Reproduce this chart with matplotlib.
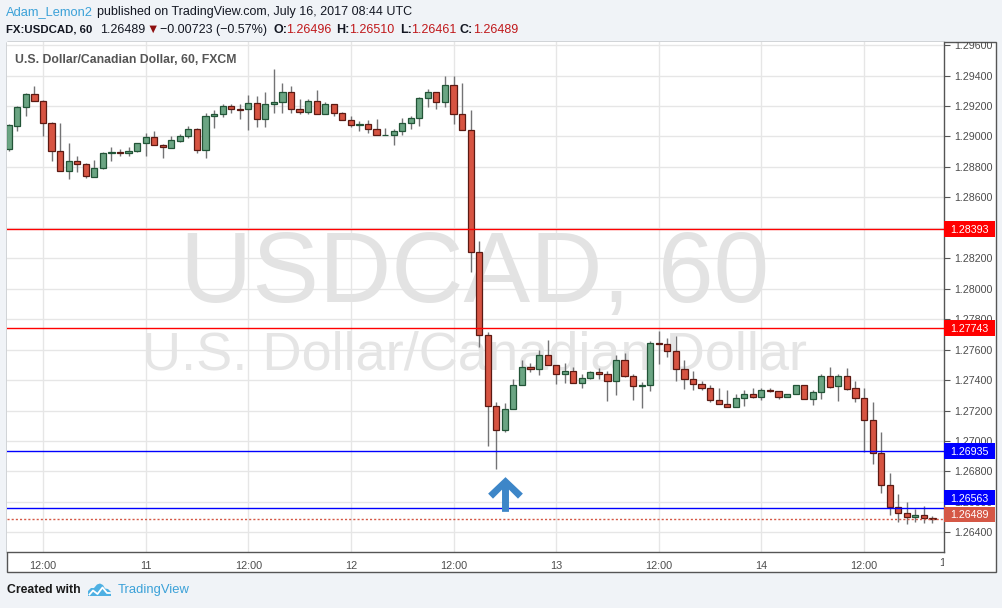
import matplotlib
matplotlib.use("Agg")
import matplotlib.pyplot as plt
import numpy as np
from matplotlib.patches import Rectangle, Polygon
from matplotlib.path import Path
from matplotlib.lines import Line2D
from matplotlib.transforms import Bbox, TransformedBbox, blended_transform_factory

# ---------------- data (USDCAD, 60 min candles, 10 Jul 08:00 -> 14 Jul 20:00) ----------------
opens = [
    1.28919, 1.29070, 1.29191, 1.29278, 1.29230, 1.29090, 1.28904, 1.28771, 1.28836, 1.28817,
    1.28735, 1.28790, 1.28889, 1.28897, 1.28889, 1.28902, 1.28955, 1.28994, 1.28941, 1.28926,
    1.28972, 1.29001, 1.29047, 1.28909, 1.29132, 1.29145, 1.29198, 1.29180, 1.29178, 1.29217,
    1.29112, 1.29211, 1.29224, 1.29290, 1.29178, 1.29162, 1.29230, 1.29145, 1.29211, 1.29152,
    1.29108, 1.29073, 1.29079, 1.29047, 1.29007, 1.29011, 1.29033, 1.29086, 1.29119, 1.29250,
    1.29290, 1.29224, 1.29336, 1.29145, 1.29040, 1.28238, 1.27693, 1.27233, 1.27069, 1.27207,
    1.27365, 1.27489, 1.27470, 1.27562, 1.27496, 1.27443, 1.27457, 1.27384, 1.27411, 1.27450,
    1.27443, 1.27391, 1.27529, 1.27430, 1.27358, 1.27365, 1.27641, 1.27634, 1.27588, 1.27470,
    1.27404, 1.27371, 1.27345, 1.27266, 1.27240, 1.27220, 1.27279, 1.27306, 1.27286, 1.27338,
    1.27325, 1.27286, 1.27306, 1.27365, 1.27273, 1.27319, 1.27424, 1.27358, 1.27430, 1.27345,
    1.27279, 1.27135, 1.26918, 1.26708, 1.26567, 1.26530, 1.26504, 1.26517, 1.26496]
highs = [
    1.29081, 1.29200, 1.29287, 1.29331, 1.29239, 1.29095, 1.29090, 1.28957, 1.28871, 1.28823,
    1.28845, 1.28897, 1.28928, 1.28915, 1.28928, 1.28958, 1.29020, 1.29035, 1.28950, 1.29003,
    1.29016, 1.29068, 1.29053, 1.29156, 1.29173, 1.29215, 1.29213, 1.29213, 1.29274, 1.29265,
    1.29292, 1.29443, 1.29351, 1.29331, 1.29246, 1.29246, 1.29303, 1.29224, 1.29211, 1.29160,
    1.29134, 1.29101, 1.29106, 1.29114, 1.29053, 1.29049, 1.29119, 1.29134, 1.29259, 1.29311,
    1.29290, 1.29397, 1.29397, 1.29351, 1.29173, 1.28313, 1.27715, 1.27255, 1.27250, 1.27404,
    1.27531, 1.27509, 1.27597, 1.27662, 1.27496, 1.27511, 1.27483, 1.27437, 1.27457, 1.27478,
    1.27457, 1.27562, 1.27581, 1.27443, 1.27386, 1.27654, 1.27719, 1.27673, 1.27687, 1.27529,
    1.27457, 1.27397, 1.27365, 1.27351, 1.27332, 1.27306, 1.27338, 1.27351, 1.27345, 1.27345,
    1.27325, 1.27306, 1.27365, 1.27365, 1.27338, 1.27437, 1.27483, 1.27443, 1.27476, 1.27391,
    1.27351, 1.27253, 1.27062, 1.26787, 1.26650, 1.26602, 1.26552, 1.26576, 1.26510]
lows = [
    1.28906, 1.29037, 1.29134, 1.29230, 1.29004, 1.28840, 1.28771, 1.28722, 1.28766, 1.28725,
    1.28731, 1.28788, 1.28840, 1.28873, 1.28873, 1.28897, 1.28873, 1.28941, 1.28860, 1.28922,
    1.28965, 1.28991, 1.28893, 1.28860, 1.29053, 1.29129, 1.29156, 1.29116, 1.29044, 1.29064,
    1.29064, 1.29156, 1.29156, 1.29152, 1.29145, 1.29145, 1.29145, 1.29145, 1.29136, 1.29108,
    1.29064, 1.29037, 1.29020, 1.29007, 1.29007, 1.28945, 1.29011, 1.29050, 1.29070, 1.29195,
    1.29182, 1.29195, 1.29079, 1.29040, 1.28111, 1.27618, 1.26968, 1.26813, 1.27060, 1.27207,
    1.27365, 1.27454, 1.27432, 1.27496, 1.27375, 1.27382, 1.27384, 1.27349, 1.27404, 1.27404,
    1.27263, 1.27303, 1.27417, 1.27270, 1.27217, 1.27329, 1.27503, 1.27549, 1.27395, 1.27342,
    1.27336, 1.27332, 1.27257, 1.27240, 1.27220, 1.27220, 1.27231, 1.27279, 1.27270, 1.27319,
    1.27273, 1.27286, 1.27306, 1.27273, 1.27237, 1.27277, 1.27351, 1.27263, 1.27338, 1.27257,
    1.26928, 1.26850, 1.26659, 1.26511, 1.26470, 1.26455, 1.26470, 1.26460, 1.26461]
closes = [
    1.29073, 1.29191, 1.29278, 1.29230, 1.29086, 1.28902, 1.28771, 1.28836, 1.28817, 1.28738,
    1.28790, 1.28889, 1.28897, 1.28889, 1.28902, 1.28955, 1.28994, 1.28941, 1.28928, 1.28974,
    1.29001, 1.29047, 1.28909, 1.29132, 1.29145, 1.29198, 1.29178, 1.29175, 1.29217, 1.29112,
    1.29211, 1.29226, 1.29290, 1.29178, 1.29162, 1.29230, 1.29145, 1.29211, 1.29152, 1.29108,
    1.29073, 1.29079, 1.29047, 1.29007, 1.29011, 1.29033, 1.29086, 1.29119, 1.29250, 1.29290,
    1.29224, 1.29336, 1.29145, 1.29040, 1.28238, 1.27693, 1.27233, 1.27069, 1.27207, 1.27365,
    1.27489, 1.27470, 1.27562, 1.27496, 1.27443, 1.27457, 1.27384, 1.27411, 1.27450, 1.27443,
    1.27391, 1.27529, 1.27430, 1.27358, 1.27365, 1.27641, 1.27634, 1.27588, 1.27470, 1.27404,
    1.27371, 1.27345, 1.27266, 1.27240, 1.27220, 1.27279, 1.27306, 1.27286, 1.27338, 1.27325,
    1.27286, 1.27306, 1.27365, 1.27273, 1.27319, 1.27424, 1.27355, 1.27430, 1.27342, 1.27279,
    1.27135, 1.26918, 1.26708, 1.26567, 1.26530, 1.26504, 1.26517, 1.26496, 1.26489]

x_tick_pos = [4, 16, 28, 40, 52, 64, 76, 88, 100]
x_tick_labels = ["12:00", "11", "12:00", "12", "12:00", "13", "12:00", "14", "12:00"]
next_session_pos = 109.5
next_session_label = "16"

y_ticks = [1.264, 1.266, 1.268, 1.270, 1.272, 1.274, 1.276, 1.278, 1.280,
           1.282, 1.284, 1.286, 1.288, 1.290, 1.292, 1.294, 1.296]
# 1.28400 is completely covered by the 1.28393 level label in the reference
y_tick_labels = ["1.26400", "1.26600", "1.26800", "1.27000", "1.27200", "1.27400",
                 "1.27600", "1.27800", "1.28000", "1.28200", "", "1.28600",
                 "1.28800", "1.29000", "1.29200", "1.29400", "1.29600"]

level_prices = [1.28393, 1.27743, 1.26935, 1.26563]
level_labels = ["1.28393", "1.27743", "1.26935", "1.26563"]
level_colors = ["#ff0000", "#ff0000", "#0000ff", "#0000ff"]
level_label_shift_px = [0, 0, 0, 10]

last_price = 1.26489
last_label = "1.26489"
last_label_shift_px = 4.5

arrow_index = 58
arrow_price = 1.26652

# ---------------- figure ----------------
W, H = 1002, 608
plt.rcParams['font.family'] = ['Liberation Sans', 'DejaVu Sans']
fig = plt.figure(figsize=(W / 100, H / 100), dpi=100, facecolor='#f0f3f7')


def fx(px):
    return px / W


def fy(py):
    return 1 - py / H


panel = Rectangle((fx(6.5), fy(571.5)), (995.5 - 6.5) / W, (571.5 - 41.5) / H,
                  transform=fig.transFigure, facecolor='white', edgecolor='#555555',
                  lw=1, zorder=-1)
fig.add_artist(panel)

ax = fig.add_axes([fx(7), fy(552), (944 - 7) / W, (552 - 42) / H])
ax.set_facecolor('white')
ax.set_xlim(-0.21, 109.35)
ax.set_ylim(1.26271, 1.29620)
ax.set_axisbelow(True)

for s in ('left', 'top'):
    ax.spines[s].set_visible(False)
for s in ('right', 'bottom'):
    ax.spines[s].set_color('#555555')
    ax.spines[s].set_linewidth(1)

ax.grid(True, color='#e6e6e6', lw=1)

ax.yaxis.tick_right()
ax.set_yticks(y_ticks)
ax.set_yticklabels(y_tick_labels)
ax.tick_params(axis='y', length=4, width=0.8, color='#555555', labelsize=7.7,
               labelcolor='#4d4d4d', pad=3, direction='out')
ax.set_xticks(x_tick_pos)
ax.set_xticklabels(x_tick_labels)
ax.tick_params(axis='x', length=0, labelsize=7.8, labelcolor='#4d4d4d', pad=6.5)

# watermark
ax.text(0.499, 0.490, "USDCAD, 60", transform=ax.transAxes, ha='center', va='baseline',
        fontsize=72, color='#e3e3e3', zorder=0.6)
ax.text(0.499, 0.358, "U.S. Dollar/Canadian Dollar", transform=ax.transAxes, ha='center',
        va='baseline', fontsize=39, color='#e5e5e5', zorder=0.6)

# candles
up_face, up_edge = '#6ba583', '#225437'
dn_face, dn_edge = '#d75442', '#5b1a13'
xs = np.arange(len(opens))
ax.vlines(xs, lows, highs, color='#737375', lw=1, zorder=2)
bw = 0.72
for i, (o, c) in enumerate(zip(opens, closes)):
    up = c >= o
    ax.add_patch(Rectangle((i - bw / 2, min(o, c)), bw, abs(c - o),
                           facecolor=up_face if up else dn_face,
                           edgecolor=up_edge if up else dn_edge, lw=0.9, zorder=3))

# horizontal levels and price labels
trans = blended_transform_factory(ax.transAxes, ax.transData)
y0, y1 = ax.get_ylim()
px_to_data = (y1 - y0) / (552 - 42)
box_w = 51 / 937
box_h = 15.5 * px_to_data
for price, lab, col, sh in zip(level_prices, level_labels, level_colors, level_label_shift_px):
    ax.axhline(price, color=col, lw=1, zorder=4)
    yc = price + sh * px_to_data
    ax.add_patch(Rectangle((1.0, yc - box_h / 2), box_w, box_h, transform=trans,
                           facecolor=col, edgecolor='none', clip_on=False, zorder=6))
    ax.text(1.0 + box_w / 2, yc, lab, transform=trans, ha='center', va='center_baseline',
            color='white', fontsize=7.7, clip_on=False, zorder=7)

last_col = '#d55846'
ax.axhline(last_price, color=last_col, lw=1, ls=(0, (1.5, 1.5)), zorder=4)
yc = last_price + last_label_shift_px * px_to_data
ax.add_patch(Rectangle((1.0, yc - box_h / 2), box_w, box_h, transform=trans,
                       facecolor=last_col, edgecolor='none', clip_on=False, zorder=8))
ax.text(1.0 + box_w / 2, yc, last_label, transform=trans, ha='center', va='center_baseline',
        color='white', fontsize=7.7, clip_on=False, zorder=9)

# blue arrow annotation
arrow_path = Path([(0, 1), (1, 0.05), (0.72, -0.24), (0.2, 0.28), (0.2, -1), (-0.2, -1),
                   (-0.2, 0.28), (-0.72, -0.24), (-1, 0.05), (0, 1)], closed=True)
ax.plot([arrow_index], [arrow_price], marker=arrow_path, markersize=25,
        color='#3d86c8', markeredgewidth=0, zorder=5)

# partially visible next-session label at right edge
t = fig.text(next_session_pos, -0.0216, next_session_label,
             transform=blended_transform_factory(ax.transData, ax.transAxes),
             ha='center', va='center', fontsize=7.8, color='#4d4d4d')
t.set_clip_box(TransformedBbox(Bbox([[0, -0.2], [1, 1]]), ax.transAxes))
t.set_clip_on(True)

# title inside plot
fig.text(fx(15), fy(60), "U.S. Dollar/Canadian Dollar, 60, FXCM", fontsize=8.8,
         fontweight='bold', color='#555555', va='center', ha='left')

# header
hdr_black = '#131722'
hdr_red = '#c0181b'
fig.text(fx(6), fy(12), "Adam_Lemon2", fontsize=9.3, color='#3ba1d8', va='center')
fig.text(fx(97), fy(12), "published on TradingView.com, July 16, 2017 08:44 UTC", fontsize=9,
         color=hdr_black, va='center')
segments = [
    (6.5, "FX:USDCAD, 60", hdr_black, 'bold', 8.2),
    (100, "1.26489", hdr_black, 'normal', 9),
    (146, "\u25bc", '#8e0f0f', 'normal', 9),
    (160, "\u22120.00723 (\u22120.57%)", hdr_black, 'normal', 9),
    (273, "O:", hdr_black, 'bold', 9),
    (286, "1.26496", hdr_red, 'normal', 9),
    (336, "H:", hdr_black, 'bold', 9),
    (349, "1.26510", hdr_red, 'normal', 9),
    (400, "L:", hdr_black, 'bold', 9),
    (411, "1.26461", hdr_red, 'normal', 9),
    (460, "C:", hdr_black, 'bold', 9),
    (473, "1.26489", hdr_red, 'normal', 9),
]
for xp, s, col, wt, fs in segments:
    fig.text(fx(xp), fy(30), s, fontsize=fs, color=col, fontweight=wt, va='center', ha='left')

# footer
fig.text(fx(7), fy(590), "Created with", fontsize=8.8, fontweight='bold', color='#1a1a1a',
         va='center')
fig.text(fx(118), fy(590), "TradingView", fontsize=9.4, color='#3ba1d8', va='center')
logo_pts = [(88, 596), (88, 591), (91, 588), (94, 588), (97, 584.5), (100, 583.5),
            (103, 585), (105, 588.5), (108, 589), (111, 592), (111, 596)]
fig.add_artist(Polygon([(fx(a), fy(b)) for a, b in logo_pts], closed=True,
                       transform=fig.transFigure, facecolor='#4eb0e3', edgecolor='none'))
zig = [(89.5, 594.5), (93, 590.5), (97.5, 594), (102.5, 587.5), (107, 593), (110, 593)]
fig.add_artist(Line2D([fx(a) for a, b in zig], [fy(b) for a, b in zig],
                      transform=fig.transFigure, color='white', lw=1.3))

# clip price-axis labels to the panel
fig.canvas.draw()
clipbox = TransformedBbox(Bbox([[0, 0], [1, fy(42)]]), fig.transFigure)
for tk in ax.yaxis.get_major_ticks():
    tk.label2.set_clip_box(clipbox)
    tk.label2.set_clip_on(True)

fig.savefig("out.png", dpi=100, facecolor=fig.get_facecolor())
